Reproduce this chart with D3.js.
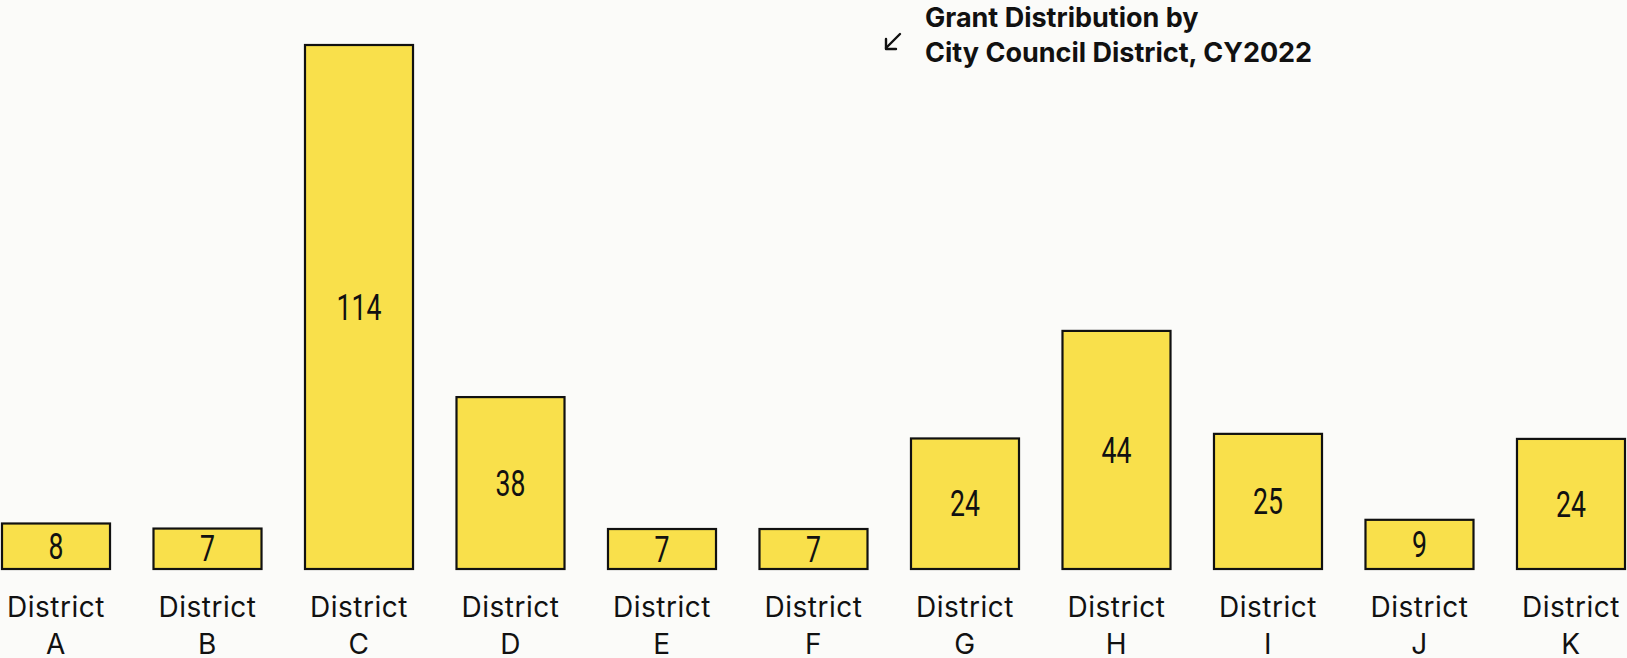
<!DOCTYPE html>
<html>
<head>
<meta charset="utf-8">
<script src="https://cdn.jsdelivr.net/npm/d3@7"></script>
<style>
  html, body { margin: 0; padding: 0; background: #fbfbf9; }
  svg { display: block; }
</style>
</head>
<body>
<svg id="chart" width="1627" height="658"></svg>
<script>
// ---- data ----
const districts = ["A", "B", "C", "D", "E", "F", "G", "H", "I", "J", "K"];
const grantCounts = [8, 7, 114, 38, 7, 7, 24, 44, 25, 9, 24];          // labels printed in bars
const barLengths = [9.9, 8.8, 114, 37.4, 8.7, 8.7, 28.4, 51.8, 29.4, 10.7, 28.3]; // bar heights
const categoryPrefix = "District";
const titleLines = ["Grant Distribution by", "City Council District, CY2022"];

// ---- layout ----
const baseY = 569, topY = 45;
const svg = d3.select("#chart");

const x = d3.scaleBand().domain(districts).range([2, 1625]).paddingInner(0.287).paddingOuter(0);
const y = d3.scaleLinear().domain([0, d3.max(barLengths)]).range([baseY, topY]);

const data = districts.map((d, i) => ({ d, count: grantCounts[i], len: barLengths[i] }));

const g = svg.append("g");

g.selectAll("rect.bar").data(data).join("rect")
  .attr("class", "bar")
  .attr("x", d => x(d.d))
  .attr("y", d => y(d.len))
  .attr("width", x.bandwidth())
  .attr("height", d => baseY - y(d.len))
  .attr("fill", "#f9e04b")
  .attr("stroke", "#111")
  .attr("stroke-width", 2.2);

g.selectAll("text.val").data(data).join("text")
  .attr("class", "val")
  .attr("transform", d => `translate(${x(d.d) + x.bandwidth() / 2},${(y(d.len) + baseY) / 2}) scale(0.72,1)`)
  .attr("text-anchor", "middle")
  .attr("dominant-baseline", "central")
  .attr("font-family", "Roboto, 'Noto Sans', sans-serif")
  .attr("font-size", 37)
  .attr("fill", "#111")
  .text(d => d.count);

// category labels (two lines)
const cat = g.selectAll("text.cat").data(data).join("text")
  .attr("class", "cat")
  .attr("x", d => x(d.d) + x.bandwidth() / 2)
  .attr("y", 617)
  .attr("text-anchor", "middle")
  .attr("font-family", "Inter, Roboto, sans-serif")
  .attr("font-size", 28)
  .attr("letter-spacing", 0.5)
  .attr("fill", "#111");
cat.append("tspan").text(categoryPrefix);
cat.append("tspan").attr("x", d => x(d.d) + x.bandwidth() / 2).attr("dy", 37).text(d => d.d);

// title
const title = svg.append("text")
  .attr("x", 925).attr("y", 27)
  .attr("font-family", "Inter, Roboto, sans-serif")
  .attr("font-weight", "bold")
  .attr("font-size", 27)
  .attr("fill", "#111");
titleLines.forEach((t, i) => {
  title.append("tspan").attr("x", 925).attr("dy", i === 0 ? 0 : 35).text(t);
});

// arrow pointing down-left
const arrow = svg.append("g").attr("stroke", "#111").attr("stroke-width", 2.4).attr("fill", "none")
  .attr("stroke-linecap", "round").attr("stroke-linejoin", "round");
arrow.append("line").attr("x1", 900).attr("y1", 34).attr("x2", 886).attr("y2", 48);
arrow.append("polyline").attr("points", "886,39 886,49 896,49");
</script>
</body>
</html>
